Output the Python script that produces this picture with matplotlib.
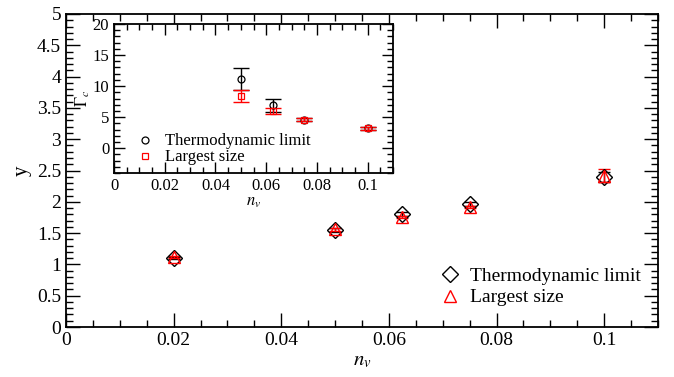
import matplotlib.pyplot as plt
from matplotlib.ticker import MultipleLocator

plt.rcParams['font.family'] = ['Liberation Serif', 'DejaVu Serif']
plt.rcParams['mathtext.fontset'] = 'stix'

# main panel
nv = [0.02, 0.05, 0.0625, 0.075, 0.1]
y_td = [1.10, 1.55, 1.81, 1.97, 2.40]
y_td_err = [0.02, 0.03, 0.03, 0.03, 0.08]
y_ls = [1.12, 1.56, 1.76, 1.92, 2.42]
y_ls_err = [0.02, 0.02, 0.02, 0.02, 0.10]

# inset
nv_in = [0.05, 0.0625, 0.075, 0.1]
g_td = [11.1, 6.9, 4.6, 3.2]
g_td_err = [1.8, 1.0, 0.3, 0.2]
g_ls = [8.4, 6.0, 4.6, 3.2]
g_ls_err = [1.0, 0.5, 0.3, 0.2]


def style_ticks(ax, xmin, ymin, size, lsize):
    ax.xaxis.set_minor_locator(MultipleLocator(xmin))
    ax.yaxis.set_minor_locator(MultipleLocator(ymin))
    ax.tick_params(which='both', direction='in', top=True, right=True, labelsize=lsize)
    ax.tick_params(which='major', length=size, width=1)
    ax.tick_params(which='minor', length=size / 2, width=1)
    for s in ax.spines.values():
        s.set_linewidth(1.3)


def zero_labels(ticks):
    return ['0' if abs(t) < 1e-9 else f'{t:g}' for t in ticks]


fig = plt.figure(figsize=(6.74, 3.77), dpi=100)
ax = fig.add_axes([66 / 674, 50 / 377, 592 / 674, 313 / 377])

ax.errorbar(nv, y_td, yerr=y_td_err, fmt='none', ecolor='k', elinewidth=1, capsize=4.5)
ax.errorbar(nv, y_ls, yerr=y_ls_err, fmt='none', ecolor='red', elinewidth=1, capsize=4.5)
ax.plot(nv, y_td, 'D', ms=8, mfc='none', mec='k', mew=1.0, label='Thermodynamic limit')
ax.plot(nv, y_ls, '^', ms=9, mfc='none', mec='red', mew=1.0, label='Largest size')
ax.set_xlim(0, 0.11)
ax.set_ylim(0, 5)
ax.xaxis.set_major_locator(MultipleLocator(0.02))
ax.yaxis.set_major_locator(MultipleLocator(0.5))
ax.set_xticklabels(zero_labels(ax.get_xticks()))
ax.set_yticklabels(zero_labels(ax.get_yticks()))
style_ticks(ax, 0.005, 0.1, 10, 14)
ax.set_xlabel(r'$n_v$', fontsize=15, labelpad=2)
ax.set_ylabel('y', fontsize=15, labelpad=4)
ax.legend(loc='lower right', bbox_to_anchor=(1.0, 0.01), frameon=False, fontsize=14,
          handletextpad=0.4, labelspacing=0.2, handlelength=1.2)

# inset
axi = fig.add_axes([114 / 674, (377 - 173) / 377, 279 / 674, 149 / 377])
axi.errorbar(nv_in, g_td, yerr=g_td_err, fmt='none', ecolor='k', elinewidth=1, capsize=6)
axi.errorbar(nv_in, g_ls, yerr=g_ls_err, fmt='none', ecolor='red', elinewidth=1, capsize=6)
axi.plot(nv_in, g_td, 'o', ms=5, mfc='none', mec='k', mew=0.9, label='Thermodynamic limit')
axi.plot(nv_in, g_ls, 's', ms=5, mfc='none', mec='red', mew=0.9, label='Largest size')
axi.set_xlim(0, 0.11)
axi.set_ylim(-4, 20)
axi.xaxis.set_major_locator(MultipleLocator(0.02))
axi.yaxis.set_major_locator(MultipleLocator(5))
axi.set_xticklabels(zero_labels(axi.get_xticks()))
style_ticks(axi, 0.005, 1, 8, 12)
axi.set_xlabel(r'$n_v$', fontsize=12, labelpad=0)
axi.set_ylabel(r'$\Gamma_c$', fontsize=12, labelpad=0)
axi.legend(loc='lower left', bbox_to_anchor=(0.02, -0.05), frameon=False, fontsize=12,
           handletextpad=0.6, labelspacing=0.0, handlelength=1.2)

fig.savefig('out.png', dpi=100)
